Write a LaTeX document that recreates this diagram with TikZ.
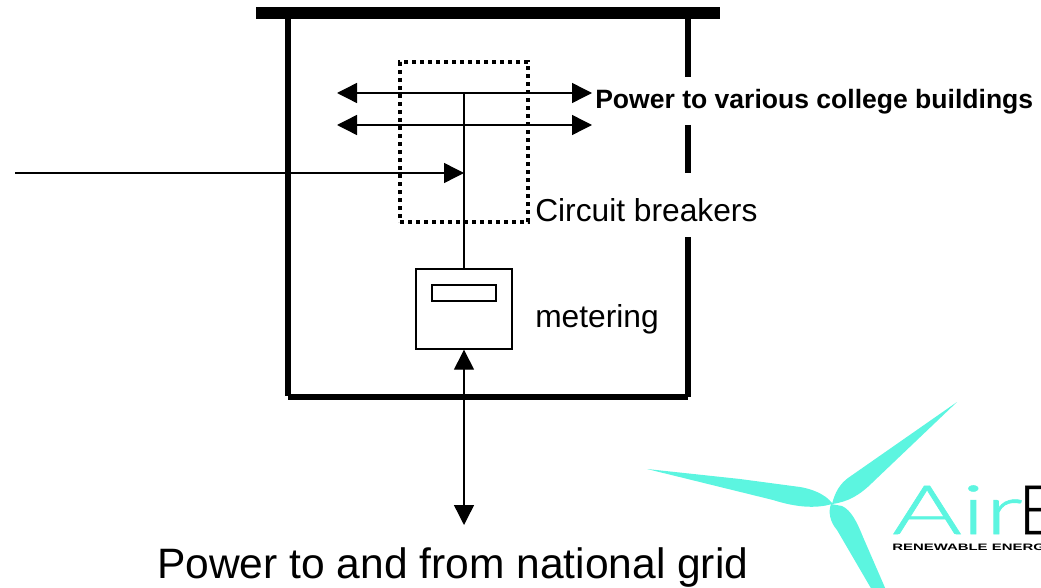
\documentclass[tikz,border=0pt]{standalone}
\usepackage{fontspec}
\setmainfont{Liberation Sans}
\newfontfamily\logofont[FakeBold=0.8]{Lato Light}
\usetikzlibrary{arrows.meta}
\definecolor{teal1}{HTML}{5CF5E0}
\tikzset{
  x=0.75pt,y=-0.75pt,
  wall/.style={line width=4.5pt,line cap=butt},
  wire/.style={line width=1.05pt},
  bigtip/.style={-{Triangle[length=15pt,width=15pt]}},
  bothtip/.style={{Triangle[length=15pt,width=15pt]}-{Triangle[length=15pt,width=15pt]}},
  lbl/.style={inner sep=0pt,anchor=base west},
  blade/.style={fill=teal1,draw=none}
}
\begin{document}
\begin{tikzpicture}
\useasboundingbox (0,0) rectangle (1041,588);
\clip (0,0) rectangle (1041,588);
% building
\fill (256,7.5) rectangle (720,19);
\draw[wall] (288,19) -- (288,396);
\draw[wall] (288,397) -- (688,397);
\draw[wall] (688,19) -- (688,77);
\draw[wall] (688,125) -- (688,173);
\draw[wall] (688,237) -- (688,397);
% breaker box
\node[draw,line width=3pt,dash pattern=on 3pt off 3pt,minimum width=96pt,minimum height=120pt,inner sep=0pt] (breakers) at (464,142) {};
% feeders
\coordinate (aL) at (337,93); \coordinate (aR) at (592,93); \coordinate (aJ) at (464,93);
\coordinate (bL) at (337,125); \coordinate (bR) at (592,125);
\coordinate (inS) at (15,173); \coordinate (inE) at (464,173);
\draw[wire,bothtip] (aL) -- (aR);
\draw[wire,bothtip] (bL) -- (bR);
\draw[wire,bigtip] (inS) -- (inE);
% meter
\node[draw,line width=1.05pt,minimum width=72pt,minimum height=60pt,inner sep=0pt] (meter) at (464,309) {};
\node[draw,line width=1.05pt,minimum width=48pt,minimum height=12pt,inner sep=0pt] (display) at (464,293) {};
\draw[wire] (aJ) -- (meter.north);
\coordinate (gridEnd) at (464,525);
\draw[wire,bothtip] (meter.south) -- (gridEnd);
% labels
\node[lbl,font=\fontsize{19.9}{22}\bfseries] (t1) at (595,109) {Power to various college buildings};
\node[lbl,font=\fontsize{23.8}{26}\selectfont] (t2) at (535,221) {Circuit breakers};
\node[lbl,font=\fontsize{23.8}{26}\selectfont] (t3) at (535,327) {metering};
\node[lbl,font=\fontsize{31.9}{35}\selectfont] (t4) at (157,578) {Power to and from national grid};
% turbine
\fill[blade] (832,504) .. controls (835,492) and (840,484) .. (848,478) -- (957,402) -- (873,482) .. controls (860,495) and (848,502) .. (832,504) -- cycle;
\fill[blade] (832,503) .. controls (825,494) and (812,489) .. (800,487) -- (740,479) -- (647,469) -- (773,500) .. controls (795,507) and (815,509) .. (832,504) -- cycle;
\fill[blade] (831,504) .. controls (828,512) and (830,522) .. (837,530) -- (872,590) -- (886,590) -- (863,537) .. controls (857,522) and (851,510) .. (842,506) -- cycle;
% logo
\node[lbl,font=\logofont\fontsize{51}{54}\selectfont,text=teal1] (air) at (892,534) {\scalebox{1.56}[1]{Air}};
\node[lbl,font=\logofont\fontsize{51}{54}\selectfont,text=black] (e) at (1018,534) {E};
\node[lbl,font=\fontsize{7}{8}\bfseries] (renew) at (892,550.5) {\scalebox{1.6}[1]{RENEWABLE ENERG}};
\end{tikzpicture}
\end{document}
